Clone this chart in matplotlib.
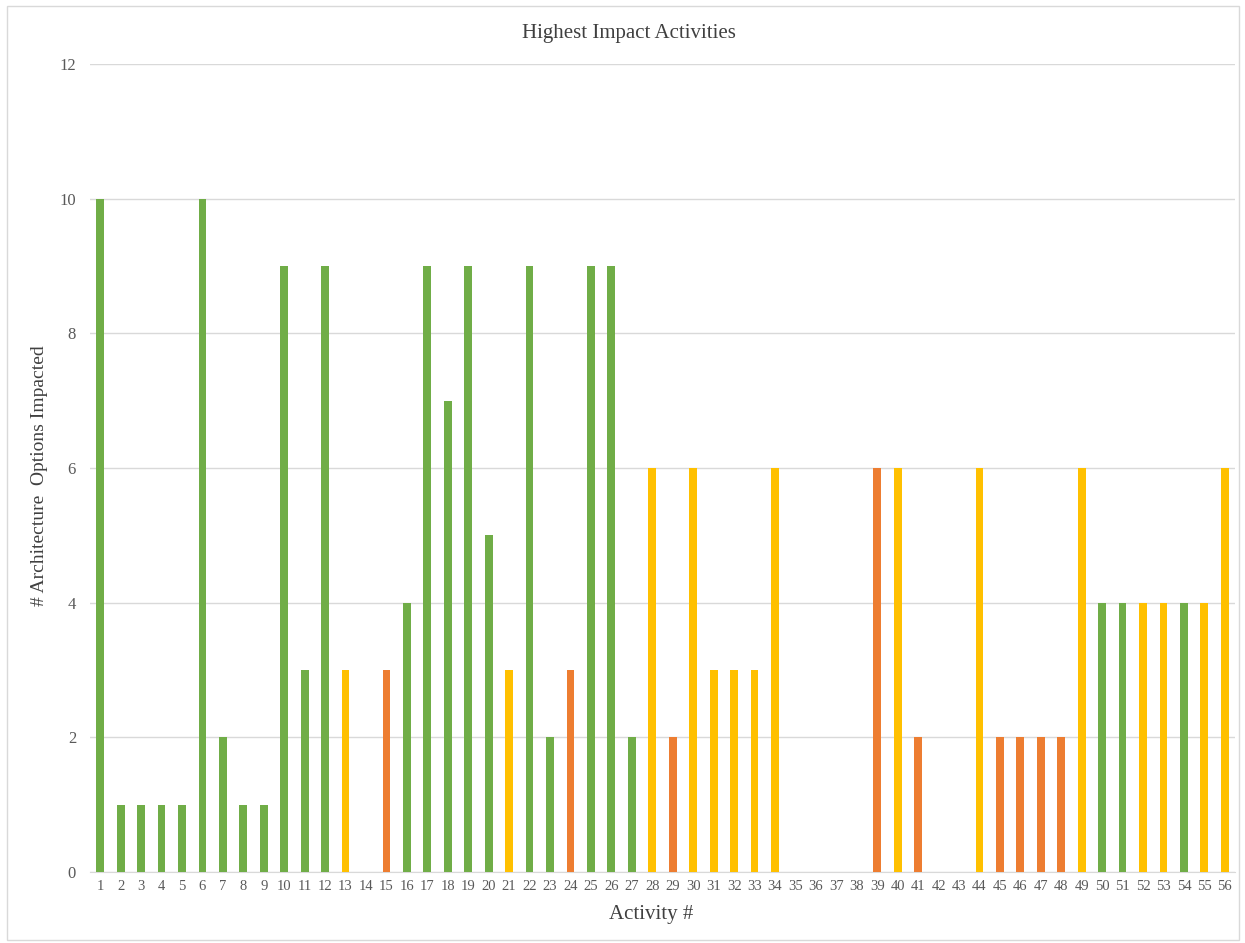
import matplotlib
matplotlib.use("Agg")
import matplotlib.pyplot as plt
from matplotlib.patches import Rectangle

plt.rcParams['font.family'] = ['Liberation Serif', 'DejaVu Serif']

# Activities 1..56, number of architecture options each one touches
activities = list(range(1, 57))
impacted = [10, 1, 1, 1, 1, 10, 2, 1, 1, 9,
            3, 9, 3, 0, 3, 4, 9, 7, 9, 5,
            3, 9, 2, 3, 9, 9, 2, 6, 2, 6,
            3, 3, 3, 6, 0, 0, 0, 0, 6, 6,
            2, 0, 0, 6, 2, 2, 2, 2, 6, 4,
            4, 4, 4, 4, 4, 6]
# g = green, y = yellow, o = orange
groups = ['g', 'g', 'g', 'g', 'g', 'g', 'g', 'g', 'g', 'g',
          'g', 'g', 'y', 'y', 'o', 'g', 'g', 'g', 'g', 'g',
          'y', 'g', 'g', 'o', 'g', 'g', 'g', 'y', 'o', 'y',
          'y', 'y', 'y', 'y', 'y', 'y', 'y', 'y', 'o', 'y',
          'o', 'y', 'y', 'y', 'o', 'o', 'o', 'o', 'y', 'g',
          'g', 'y', 'y', 'g', 'y', 'y']
palette = {'g': '#70AD47', 'y': '#FFC000', 'o': '#ED7D31'}
yticks = [0, 2, 4, 6, 8, 10, 12]

fig = plt.figure(figsize=(12.45, 9.43), dpi=100)
ax = fig.add_axes([90 / 1245, 71 / 943, 1145 / 1245, 808 / 943])

# thin outer frame round the whole chart
fig.patches.append(Rectangle((7 / 1245, 3 / 943), 1232 / 1245, 934 / 943,
                             transform=fig.transFigure, fill=False,
                             edgecolor='#D9D9D9', linewidth=1.0))

ax.bar(activities, impacted, width=0.38,
       color=[palette[g] for g in groups], zorder=3)

ax.set_xlim(0.5, 56.5)
ax.set_ylim(0, 12)
ax.set_xticks(activities)
ax.set_xticklabels([str(a) for a in activities], fontsize=10.5, color='#595959')
ax.set_yticks(yticks)
ax.set_yticklabels([str(t) for t in yticks], fontsize=12, color='#595959')
ax.tick_params(axis='both', length=0)
ax.tick_params(axis='x', pad=6)
ax.tick_params(axis='y', pad=10)

ax.grid(axis='y', color='#D9D9D9', linewidth=1.0, zorder=0)
for side in ['top', 'right', 'left']:
    ax.spines[side].set_visible(False)
ax.spines['bottom'].set_color('#D9D9D9')

fig.text(0.505, 0.964, 'Highest Impact Activities', fontsize=15,
         color='#404040', ha='center', va='center')
ax.set_xlabel('Activity #', fontsize=15, color='#404040', labelpad=3)
ax.xaxis.set_label_coords(0.49, -0.041)
ax.set_ylabel('# Architecture  Options Impacted', fontsize=14, color='#404040')
ax.yaxis.set_label_coords(-0.037, 0.49)

fig.savefig('out.png', dpi=100)
